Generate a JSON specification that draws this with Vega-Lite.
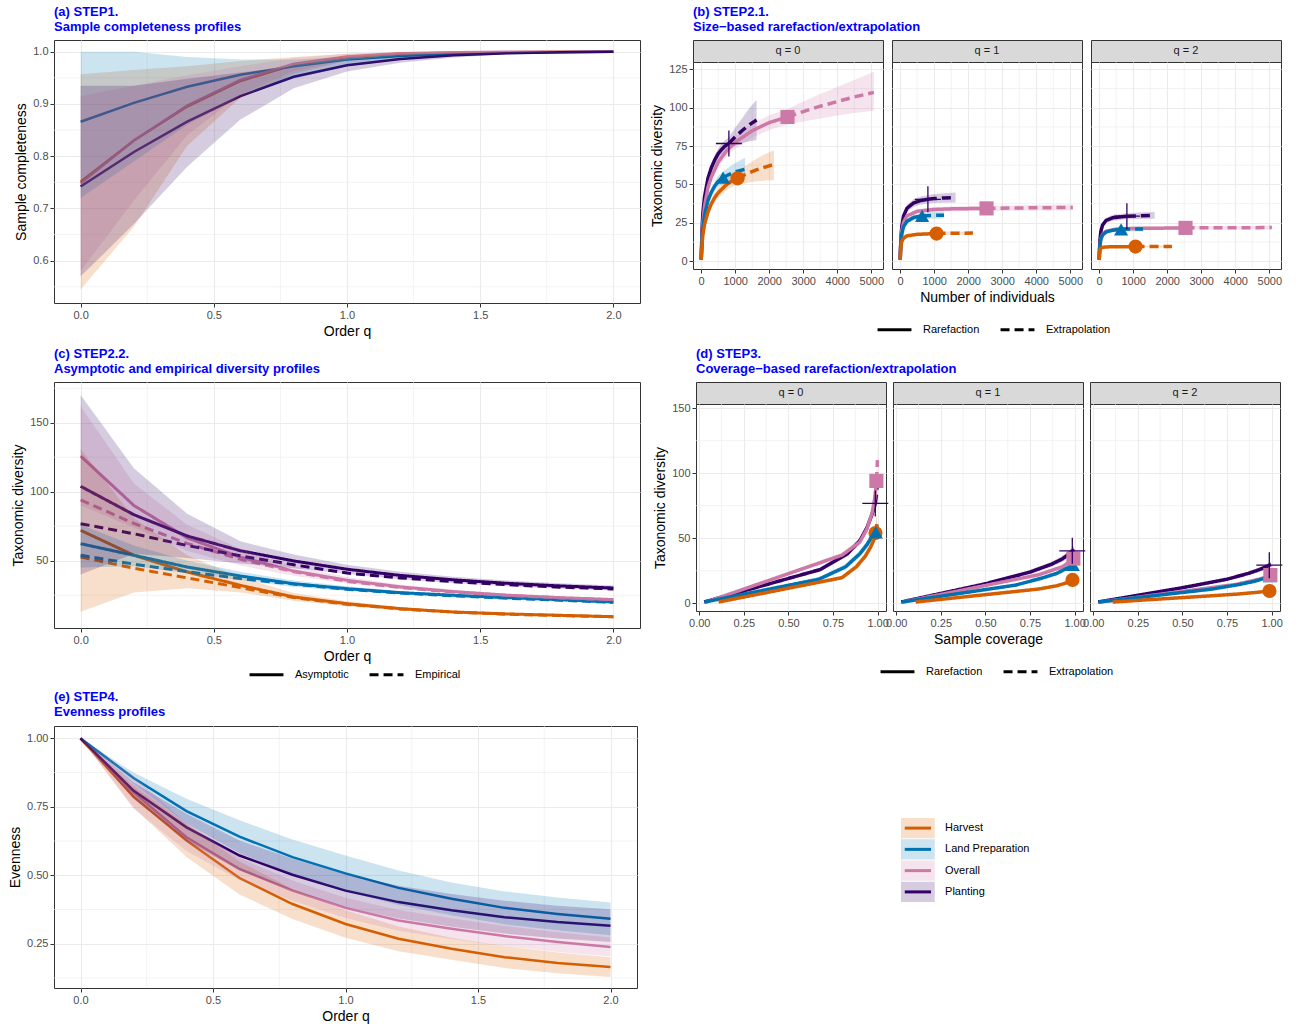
{
"$schema": "https://vega.github.io/schema/vega-lite/v6.json",
"background": "white",
"padding": {"left": 8, "top": 5, "right": 5, "bottom": 2},
"config": {
  "font": "Liberation Sans",
  "view": {"stroke": "#333333", "strokeWidth": 1},
  "axis": {"domain": false, "grid": true, "gridColor": "#EBEBEB", "gridWidth": 1.1, "tickColor": "#333333", "tickSize": 4, "tickWidth": 1, "labelColor": "#4D4D4D", "labelFont": "Liberation Sans", "labelFontSize": 11, "labelPadding": 2, "labelOverlap": false, "labelFlush": false, "titleFont": "Liberation Sans", "titleFontSize": 14, "titleFontWeight": "normal", "titleColor": "#000000", "titlePadding": 4, "minExtent": 0},
  "title": {"anchor": "start", "frame": "group", "color": "#0000FF", "font": "Liberation Sans", "fontSize": 13, "fontWeight": "bold", "offset": 6, "lineHeight": 14.5},
  "legend": {"labelFont": "Liberation Sans", "labelFontSize": 11, "labelColor": "#000000", "symbolType": "stroke", "symbolStrokeWidth": 3, "symbolSize": 1150, "symbolStrokeColor": "#000000", "columnPadding": 14, "labelOffset": 10}
},
"datasets": {
"sc": [
{"g":"Harvest","q":0,"v":0.751,"lo":0.545,"hi":0.957},{"g":"Harvest","q":0.2,"v":0.83,"lo":0.665,"hi":0.965},{"g":"Harvest","q":0.4,"v":0.895,"lo":0.82,"hi":0.972},{"g":"Harvest","q":0.6,"v":0.944,"lo":0.912,"hi":0.982},{"g":"Harvest","q":0.8,"v":0.975,"lo":0.958,"hi":0.99},{"g":"Harvest","q":1,"v":0.99,"lo":0.983,"hi":0.996},{"g":"Harvest","q":1.2,"v":0.996,"lo":0.992,"hi":0.999},{"g":"Harvest","q":1.4,"v":0.998,"lo":0.996,"hi":1},{"g":"Harvest","q":1.6,"v":0.999,"lo":0.998,"hi":1},{"g":"Harvest","q":1.8,"v":1,"lo":0.999,"hi":1},{"g":"Harvest","q":2,"v":1,"lo":1,"hi":1},
{"g":"Land Preparation","q":0,"v":0.866,"lo":0.72,"hi":1},{"g":"Land Preparation","q":0.2,"v":0.902,"lo":0.79,"hi":1},{"g":"Land Preparation","q":0.4,"v":0.933,"lo":0.86,"hi":0.99},{"g":"Land Preparation","q":0.6,"v":0.956,"lo":0.915,"hi":0.985},{"g":"Land Preparation","q":0.8,"v":0.972,"lo":0.948,"hi":0.985},{"g":"Land Preparation","q":1,"v":0.985,"lo":0.972,"hi":0.99},{"g":"Land Preparation","q":1.2,"v":0.992,"lo":0.985,"hi":0.996},{"g":"Land Preparation","q":1.4,"v":0.996,"lo":0.992,"hi":0.998},{"g":"Land Preparation","q":1.6,"v":0.998,"lo":0.996,"hi":1},{"g":"Land Preparation","q":1.8,"v":0.999,"lo":0.998,"hi":1},{"g":"Land Preparation","q":2,"v":1,"lo":0.999,"hi":1},
{"g":"Overall","q":0,"v":0.748,"lo":0.58,"hi":0.915},{"g":"Overall","q":0.2,"v":0.83,"lo":0.715,"hi":0.935},{"g":"Overall","q":0.4,"v":0.897,"lo":0.84,"hi":0.955},{"g":"Overall","q":0.6,"v":0.946,"lo":0.918,"hi":0.972},{"g":"Overall","q":0.8,"v":0.977,"lo":0.963,"hi":0.988},{"g":"Overall","q":1,"v":0.991,"lo":0.984,"hi":0.996},{"g":"Overall","q":1.2,"v":0.997,"lo":0.994,"hi":0.999},{"g":"Overall","q":1.4,"v":0.999,"lo":0.998,"hi":1},{"g":"Overall","q":1.6,"v":1,"lo":0.999,"hi":1},{"g":"Overall","q":1.8,"v":1,"lo":1,"hi":1},{"g":"Overall","q":2,"v":1,"lo":1,"hi":1},
{"g":"Planting","q":0,"v":0.742,"lo":0.57,"hi":0.935},{"g":"Planting","q":0.2,"v":0.808,"lo":0.67,"hi":0.935},{"g":"Planting","q":0.4,"v":0.866,"lo":0.78,"hi":0.948},{"g":"Planting","q":0.6,"v":0.915,"lo":0.87,"hi":0.96},{"g":"Planting","q":0.8,"v":0.952,"lo":0.93,"hi":0.972},{"g":"Planting","q":1,"v":0.974,"lo":0.962,"hi":0.984},{"g":"Planting","q":1.2,"v":0.986,"lo":0.979,"hi":0.992},{"g":"Planting","q":1.4,"v":0.993,"lo":0.989,"hi":0.997},{"g":"Planting","q":1.6,"v":0.997,"lo":0.995,"hi":0.999},{"g":"Planting","q":1.8,"v":0.999,"lo":0.998,"hi":1},{"g":"Planting","q":2,"v":1,"lo":0.999,"hi":1}
],
"prof": [
{"g":"Harvest","m":"Asymptotic","q":0,"v":72,"lo":13,"hi":131},{"g":"Harvest","m":"Asymptotic","q":0.2,"v":53.9,"lo":27,"hi":81},{"g":"Harvest","m":"Asymptotic","q":0.4,"v":41.8,"lo":30,"hi":54},{"g":"Harvest","m":"Asymptotic","q":0.6,"v":32.1,"lo":27,"hi":38},{"g":"Harvest","m":"Asymptotic","q":0.8,"v":23.7,"lo":21,"hi":26.5},{"g":"Harvest","m":"Asymptotic","q":1,"v":18.8,"lo":17,"hi":20.6},{"g":"Harvest","m":"Asymptotic","q":1.2,"v":15.2,"lo":14,"hi":16.4},{"g":"Harvest","m":"Asymptotic","q":1.4,"v":12.8,"lo":12,"hi":13.6},{"g":"Harvest","m":"Asymptotic","q":1.6,"v":11.4,"lo":10.7,"hi":12.1},{"g":"Harvest","m":"Asymptotic","q":1.8,"v":10.4,"lo":9.8,"hi":11},{"g":"Harvest","m":"Asymptotic","q":2,"v":9.4,"lo":8.9,"hi":9.9},
{"g":"Harvest","m":"Empirical","q":0,"v":52.7},{"g":"Harvest","m":"Empirical","q":0.2,"v":44.5},{"g":"Harvest","m":"Empirical","q":0.4,"v":37.5},{"g":"Harvest","m":"Empirical","q":0.6,"v":30.5},{"g":"Harvest","m":"Empirical","q":0.8,"v":23.3},{"g":"Harvest","m":"Empirical","q":1,"v":18.4},{"g":"Harvest","m":"Empirical","q":1.2,"v":15},{"g":"Harvest","m":"Empirical","q":1.4,"v":12.7},{"g":"Harvest","m":"Empirical","q":1.6,"v":11.2},{"g":"Harvest","m":"Empirical","q":1.8,"v":10.2},{"g":"Harvest","m":"Empirical","q":2,"v":9.3},
{"g":"Land Preparation","m":"Asymptotic","q":0,"v":62.3,"lo":45,"hi":76},{"g":"Land Preparation","m":"Asymptotic","q":0.2,"v":53.9,"lo":46,"hi":61},{"g":"Land Preparation","m":"Asymptotic","q":0.4,"v":45.4,"lo":41,"hi":50},{"g":"Land Preparation","m":"Asymptotic","q":0.6,"v":38.9,"lo":36,"hi":42},{"g":"Land Preparation","m":"Asymptotic","q":0.8,"v":33.3,"lo":31,"hi":35.6},{"g":"Land Preparation","m":"Asymptotic","q":1,"v":29.7,"lo":28,"hi":31.4},{"g":"Land Preparation","m":"Asymptotic","q":1.2,"v":26.8,"lo":25.6,"hi":28},{"g":"Land Preparation","m":"Asymptotic","q":1.4,"v":24.9,"lo":23.8,"hi":26},{"g":"Land Preparation","m":"Asymptotic","q":1.6,"v":23.2,"lo":22.1,"hi":24.3},{"g":"Land Preparation","m":"Asymptotic","q":1.8,"v":21.7,"lo":20.7,"hi":22.7},{"g":"Land Preparation","m":"Asymptotic","q":2,"v":20,"lo":19,"hi":21},
{"g":"Land Preparation","m":"Empirical","q":0,"v":53.9},{"g":"Land Preparation","m":"Empirical","q":0.2,"v":47.5},{"g":"Land Preparation","m":"Empirical","q":0.4,"v":42},{"g":"Land Preparation","m":"Empirical","q":0.6,"v":37},{"g":"Land Preparation","m":"Empirical","q":0.8,"v":33},{"g":"Land Preparation","m":"Empirical","q":1,"v":29.3},{"g":"Land Preparation","m":"Empirical","q":1.2,"v":26.5},{"g":"Land Preparation","m":"Empirical","q":1.4,"v":24.5},{"g":"Land Preparation","m":"Empirical","q":1.6,"v":22.8},{"g":"Land Preparation","m":"Empirical","q":1.8,"v":21.3},{"g":"Land Preparation","m":"Empirical","q":2,"v":19.8},
{"g":"Overall","m":"Asymptotic","q":0,"v":125.8,"lo":90,"hi":162},{"g":"Overall","m":"Asymptotic","q":0.2,"v":90,"lo":74,"hi":106},{"g":"Overall","m":"Asymptotic","q":0.4,"v":66.5,"lo":57,"hi":76},{"g":"Overall","m":"Asymptotic","q":0.6,"v":52.5,"lo":46.5,"hi":58.5},{"g":"Overall","m":"Asymptotic","q":0.8,"v":42.5,"lo":39,"hi":46},{"g":"Overall","m":"Asymptotic","q":1,"v":35.8,"lo":33.5,"hi":38.1},{"g":"Overall","m":"Asymptotic","q":1.2,"v":31,"lo":29.3,"hi":32.7},{"g":"Overall","m":"Asymptotic","q":1.4,"v":27.6,"lo":26.2,"hi":29},{"g":"Overall","m":"Asymptotic","q":1.6,"v":25,"lo":23.8,"hi":26.2},{"g":"Overall","m":"Asymptotic","q":1.8,"v":23.2,"lo":22.1,"hi":24.3},{"g":"Overall","m":"Asymptotic","q":2,"v":21.8,"lo":20.8,"hi":22.8},
{"g":"Overall","m":"Empirical","q":0,"v":94},{"g":"Overall","m":"Empirical","q":0.2,"v":77},{"g":"Overall","m":"Empirical","q":0.4,"v":62.5},{"g":"Overall","m":"Empirical","q":0.6,"v":51},{"g":"Overall","m":"Empirical","q":0.8,"v":42},{"g":"Overall","m":"Empirical","q":1,"v":35},{"g":"Overall","m":"Empirical","q":1.2,"v":30.5},{"g":"Overall","m":"Empirical","q":1.4,"v":27.2},{"g":"Overall","m":"Empirical","q":1.6,"v":24.8},{"g":"Overall","m":"Empirical","q":1.8,"v":23},{"g":"Overall","m":"Empirical","q":2,"v":21.6},
{"g":"Planting","m":"Asymptotic","q":0,"v":103.9,"lo":40,"hi":170},{"g":"Planting","m":"Asymptotic","q":0.2,"v":83.3,"lo":55,"hi":117},{"g":"Planting","m":"Asymptotic","q":0.4,"v":67.9,"lo":52,"hi":84},{"g":"Planting","m":"Asymptotic","q":0.6,"v":57.2,"lo":48,"hi":64},{"g":"Planting","m":"Asymptotic","q":0.8,"v":49.8,"lo":44.5,"hi":54.5},{"g":"Planting","m":"Asymptotic","q":1,"v":43.8,"lo":40.5,"hi":47},{"g":"Planting","m":"Asymptotic","q":1.2,"v":39.3,"lo":36.5,"hi":42},{"g":"Planting","m":"Asymptotic","q":1.4,"v":36.1,"lo":33.8,"hi":38.4},{"g":"Planting","m":"Asymptotic","q":1.6,"v":33.6,"lo":31.5,"hi":35.7},{"g":"Planting","m":"Asymptotic","q":1.8,"v":31.7,"lo":29.8,"hi":33.6},{"g":"Planting","m":"Asymptotic","q":2,"v":30.2,"lo":28.4,"hi":32},
{"g":"Planting","m":"Empirical","q":0,"v":76.8},{"g":"Planting","m":"Empirical","q":0.2,"v":69.5},{"g":"Planting","m":"Empirical","q":0.4,"v":61},{"g":"Planting","m":"Empirical","q":0.6,"v":53.5},{"g":"Planting","m":"Empirical","q":0.8,"v":47},{"g":"Planting","m":"Empirical","q":1,"v":41},{"g":"Planting","m":"Empirical","q":1.2,"v":37.5},{"g":"Planting","m":"Empirical","q":1.4,"v":34.8},{"g":"Planting","m":"Empirical","q":1.6,"v":32.6},{"g":"Planting","m":"Empirical","q":1.8,"v":30.8},{"g":"Planting","m":"Empirical","q":2,"v":29.5}
],
"even": [
{"g":"Harvest","q":0,"v":1,"lo":1,"hi":1},{"g":"Harvest","q":0.2,"v":0.787,"lo":0.747,"hi":0.827},{"g":"Harvest","q":0.4,"v":0.627,"lo":0.567,"hi":0.687},{"g":"Harvest","q":0.6,"v":0.49,"lo":0.43,"hi":0.55},{"g":"Harvest","q":0.8,"v":0.395,"lo":0.34,"hi":0.45},{"g":"Harvest","q":1,"v":0.322,"lo":0.272,"hi":0.372},{"g":"Harvest","q":1.2,"v":0.268,"lo":0.223,"hi":0.313},{"g":"Harvest","q":1.4,"v":0.232,"lo":0.192,"hi":0.272},{"g":"Harvest","q":1.6,"v":0.201,"lo":0.161,"hi":0.241},{"g":"Harvest","q":1.8,"v":0.18,"lo":0.142,"hi":0.218},{"g":"Harvest","q":2,"v":0.165,"lo":0.129,"hi":0.201},
{"g":"Land Preparation","q":0,"v":1,"lo":1,"hi":1},{"g":"Land Preparation","q":0.2,"v":0.855,"lo":0.835,"hi":0.875},{"g":"Land Preparation","q":0.4,"v":0.734,"lo":0.689,"hi":0.779},{"g":"Land Preparation","q":0.6,"v":0.641,"lo":0.581,"hi":0.701},{"g":"Land Preparation","q":0.8,"v":0.566,"lo":0.501,"hi":0.631},{"g":"Land Preparation","q":1,"v":0.507,"lo":0.442,"hi":0.572},{"g":"Land Preparation","q":1.2,"v":0.454,"lo":0.391,"hi":0.517},{"g":"Land Preparation","q":1.4,"v":0.414,"lo":0.354,"hi":0.474},{"g":"Land Preparation","q":1.6,"v":0.381,"lo":0.321,"hi":0.441},{"g":"Land Preparation","q":1.8,"v":0.359,"lo":0.299,"hi":0.419},{"g":"Land Preparation","q":2,"v":0.341,"lo":0.281,"hi":0.401},
{"g":"Overall","q":0,"v":1,"lo":1,"hi":1},{"g":"Overall","q":0.2,"v":0.803,"lo":0.743,"hi":0.863},{"g":"Overall","q":0.4,"v":0.639,"lo":0.589,"hi":0.689},{"g":"Overall","q":0.6,"v":0.523,"lo":0.483,"hi":0.563},{"g":"Overall","q":0.8,"v":0.444,"lo":0.407,"hi":0.481},{"g":"Overall","q":1,"v":0.381,"lo":0.344,"hi":0.418},{"g":"Overall","q":1.2,"v":0.335,"lo":0.297,"hi":0.373},{"g":"Overall","q":1.4,"v":0.305,"lo":0.267,"hi":0.343},{"g":"Overall","q":1.6,"v":0.278,"lo":0.241,"hi":0.315},{"g":"Overall","q":1.8,"v":0.256,"lo":0.22,"hi":0.292},{"g":"Overall","q":2,"v":0.238,"lo":0.203,"hi":0.273},
{"g":"Planting","q":0,"v":1,"lo":1,"hi":1},{"g":"Planting","q":0.2,"v":0.809,"lo":0.779,"hi":0.839},{"g":"Planting","q":0.4,"v":0.675,"lo":0.625,"hi":0.725},{"g":"Planting","q":0.6,"v":0.572,"lo":0.517,"hi":0.627},{"g":"Planting","q":0.8,"v":0.502,"lo":0.444,"hi":0.56},{"g":"Planting","q":1,"v":0.444,"lo":0.384,"hi":0.504},{"g":"Planting","q":1.2,"v":0.402,"lo":0.342,"hi":0.462},{"g":"Planting","q":1.4,"v":0.372,"lo":0.312,"hi":0.432},{"g":"Planting","q":1.6,"v":0.347,"lo":0.287,"hi":0.407},{"g":"Planting","q":1.8,"v":0.329,"lo":0.269,"hi":0.389},{"g":"Planting","q":2,"v":0.316,"lo":0.256,"hi":0.376}
],
"size": [
{"q":0,"g":"Planting","m":"Rarefaction","x":1,"y":1,"lo":1,"hi":1},{"q":0,"g":"Planting","m":"Rarefaction","x":25,"y":20,"lo":19,"hi":21},{"q":0,"g":"Planting","m":"Rarefaction","x":50,"y":31,"lo":29.5,"hi":32.5},{"q":0,"g":"Planting","m":"Rarefaction","x":100,"y":42,"lo":40,"hi":44},{"q":0,"g":"Planting","m":"Rarefaction","x":200,"y":54,"lo":51.5,"hi":56.5},{"q":0,"g":"Planting","m":"Rarefaction","x":300,"y":61,"lo":58,"hi":64},{"q":0,"g":"Planting","m":"Rarefaction","x":400,"y":66,"lo":62.8,"hi":69.2},{"q":0,"g":"Planting","m":"Rarefaction","x":500,"y":70,"lo":66.6,"hi":73.4},{"q":0,"g":"Planting","m":"Rarefaction","x":600,"y":72.8,"lo":69.2,"hi":76.4},{"q":0,"g":"Planting","m":"Rarefaction","x":700,"y":75,"lo":71.2,"hi":78.8},{"q":0,"g":"Planting","m":"Rarefaction","x":815,"y":76.7,"lo":72.7,"hi":80.7},
{"q":0,"g":"Planting","m":"Extrapolation","x":815,"y":76.7,"lo":72.7,"hi":80.7},{"q":0,"g":"Planting","m":"Extrapolation","x":1000,"y":81,"lo":75,"hi":87},{"q":0,"g":"Planting","m":"Extrapolation","x":1200,"y":85,"lo":77,"hi":93},{"q":0,"g":"Planting","m":"Extrapolation","x":1400,"y":88.7,"lo":78,"hi":99.4},{"q":0,"g":"Planting","m":"Extrapolation","x":1630,"y":92,"lo":79,"hi":105},
{"q":0,"g":"Overall","m":"Rarefaction","x":1,"y":1,"lo":1,"hi":1},{"q":0,"g":"Overall","m":"Rarefaction","x":25,"y":16,"lo":15,"hi":17},{"q":0,"g":"Overall","m":"Rarefaction","x":50,"y":25,"lo":23.5,"hi":26.5},{"q":0,"g":"Overall","m":"Rarefaction","x":100,"y":36,"lo":34,"hi":38},{"q":0,"g":"Overall","m":"Rarefaction","x":200,"y":48,"lo":45.5,"hi":50.5},{"q":0,"g":"Overall","m":"Rarefaction","x":300,"y":55,"lo":52,"hi":58},{"q":0,"g":"Overall","m":"Rarefaction","x":500,"y":64.5,"lo":61,"hi":68},{"q":0,"g":"Overall","m":"Rarefaction","x":750,"y":72,"lo":68,"hi":76},{"q":0,"g":"Overall","m":"Rarefaction","x":1000,"y":77.5,"lo":73.3,"hi":81.7},{"q":0,"g":"Overall","m":"Rarefaction","x":1500,"y":85,"lo":80.5,"hi":89.5},{"q":0,"g":"Overall","m":"Rarefaction","x":2000,"y":90.3,"lo":85.5,"hi":95.1},{"q":0,"g":"Overall","m":"Rarefaction","x":2538,"y":94,"lo":89,"hi":99},
{"q":0,"g":"Overall","m":"Extrapolation","x":2538,"y":94,"lo":89,"hi":99},{"q":0,"g":"Overall","m":"Extrapolation","x":3000,"y":97.5,"lo":91,"hi":104},{"q":0,"g":"Overall","m":"Extrapolation","x":3500,"y":101,"lo":93,"hi":109},{"q":0,"g":"Overall","m":"Extrapolation","x":4000,"y":104,"lo":95,"hi":113.5},{"q":0,"g":"Overall","m":"Extrapolation","x":4500,"y":107,"lo":96.5,"hi":118},{"q":0,"g":"Overall","m":"Extrapolation","x":5076,"y":110,"lo":98,"hi":123.5},
{"q":0,"g":"Land Preparation","m":"Rarefaction","x":1,"y":1,"lo":1,"hi":1},{"q":0,"g":"Land Preparation","m":"Rarefaction","x":25,"y":15,"lo":14,"hi":16},{"q":0,"g":"Land Preparation","m":"Rarefaction","x":50,"y":22,"lo":20.5,"hi":23.5},{"q":0,"g":"Land Preparation","m":"Rarefaction","x":100,"y":30,"lo":28,"hi":32},{"q":0,"g":"Land Preparation","m":"Rarefaction","x":200,"y":39.5,"lo":37,"hi":42},{"q":0,"g":"Land Preparation","m":"Rarefaction","x":300,"y":45,"lo":42,"hi":48},{"q":0,"g":"Land Preparation","m":"Rarefaction","x":400,"y":49,"lo":45.7,"hi":52.3},{"q":0,"g":"Land Preparation","m":"Rarefaction","x":500,"y":52,"lo":48.4,"hi":55.6},{"q":0,"g":"Land Preparation","m":"Rarefaction","x":645,"y":54.4,"lo":50.4,"hi":58.4},
{"q":0,"g":"Land Preparation","m":"Extrapolation","x":645,"y":54.4,"lo":50.4,"hi":58.4},{"q":0,"g":"Land Preparation","m":"Extrapolation","x":800,"y":56.3,"lo":51.5,"hi":61},{"q":0,"g":"Land Preparation","m":"Extrapolation","x":1000,"y":58.2,"lo":52.5,"hi":64},{"q":0,"g":"Land Preparation","m":"Extrapolation","x":1290,"y":59.9,"lo":53.3,"hi":67.4},
{"q":0,"g":"Harvest","m":"Rarefaction","x":1,"y":1,"lo":1,"hi":1},{"q":0,"g":"Harvest","m":"Rarefaction","x":25,"y":11,"lo":10,"hi":12},{"q":0,"g":"Harvest","m":"Rarefaction","x":50,"y":17,"lo":15.7,"hi":18.3},{"q":0,"g":"Harvest","m":"Rarefaction","x":100,"y":24,"lo":22.2,"hi":25.8},{"q":0,"g":"Harvest","m":"Rarefaction","x":200,"y":32,"lo":29.8,"hi":34.2},{"q":0,"g":"Harvest","m":"Rarefaction","x":300,"y":37.5,"lo":34.9,"hi":40.1},{"q":0,"g":"Harvest","m":"Rarefaction","x":400,"y":41.5,"lo":38.5,"hi":44.5},{"q":0,"g":"Harvest","m":"Rarefaction","x":500,"y":44.5,"lo":41.3,"hi":47.7},{"q":0,"g":"Harvest","m":"Rarefaction","x":700,"y":49,"lo":45.4,"hi":52.6},{"q":0,"g":"Harvest","m":"Rarefaction","x":900,"y":52.3,"lo":48.3,"hi":56.3},{"q":0,"g":"Harvest","m":"Rarefaction","x":1070,"y":54,"lo":49.8,"hi":58.2},
{"q":0,"g":"Harvest","m":"Extrapolation","x":1070,"y":54,"lo":49.8,"hi":58.2},{"q":0,"g":"Harvest","m":"Extrapolation","x":1300,"y":56.5,"lo":51,"hi":62},{"q":0,"g":"Harvest","m":"Extrapolation","x":1600,"y":59.3,"lo":52,"hi":66.5},{"q":0,"g":"Harvest","m":"Extrapolation","x":1900,"y":61.5,"lo":52.5,"hi":70},{"q":0,"g":"Harvest","m":"Extrapolation","x":2140,"y":63,"lo":52.8,"hi":72.3},
{"q":1,"g":"Planting","m":"Rarefaction","x":1,"y":1,"lo":1,"hi":1},{"q":1,"g":"Planting","m":"Rarefaction","x":10,"y":8,"lo":7.5,"hi":8.5},{"q":1,"g":"Planting","m":"Rarefaction","x":25,"y":16,"lo":15,"hi":17},{"q":1,"g":"Planting","m":"Rarefaction","x":50,"y":23,"lo":21.5,"hi":24.5},{"q":1,"g":"Planting","m":"Rarefaction","x":100,"y":29.5,"lo":27.5,"hi":31.5},{"q":1,"g":"Planting","m":"Rarefaction","x":200,"y":34.5,"lo":32.2,"hi":36.8},{"q":1,"g":"Planting","m":"Rarefaction","x":400,"y":38,"lo":35.5,"hi":40.5},{"q":1,"g":"Planting","m":"Rarefaction","x":600,"y":39.5,"lo":36.9,"hi":42.1},{"q":1,"g":"Planting","m":"Rarefaction","x":815,"y":40.3,"lo":37.6,"hi":43},
{"q":1,"g":"Planting","m":"Extrapolation","x":815,"y":40.3,"lo":37.6,"hi":43},{"q":1,"g":"Planting","m":"Extrapolation","x":1000,"y":40.8,"lo":37.9,"hi":43.7},{"q":1,"g":"Planting","m":"Extrapolation","x":1300,"y":41.2,"lo":38.1,"hi":44.3},{"q":1,"g":"Planting","m":"Extrapolation","x":1630,"y":41.5,"lo":38.2,"hi":44.8},
{"q":1,"g":"Overall","m":"Rarefaction","x":1,"y":1,"lo":1,"hi":1},{"q":1,"g":"Overall","m":"Rarefaction","x":10,"y":7,"lo":6.6,"hi":7.4},{"q":1,"g":"Overall","m":"Rarefaction","x":25,"y":14,"lo":13.2,"hi":14.8},{"q":1,"g":"Overall","m":"Rarefaction","x":50,"y":20,"lo":19,"hi":21},{"q":1,"g":"Overall","m":"Rarefaction","x":100,"y":25.5,"lo":24.3,"hi":26.7},{"q":1,"g":"Overall","m":"Rarefaction","x":200,"y":29.5,"lo":28.1,"hi":30.9},{"q":1,"g":"Overall","m":"Rarefaction","x":500,"y":32.5,"lo":31,"hi":34},{"q":1,"g":"Overall","m":"Rarefaction","x":1000,"y":33.7,"lo":32.1,"hi":35.3},{"q":1,"g":"Overall","m":"Rarefaction","x":1500,"y":34.1,"lo":32.5,"hi":35.7},{"q":1,"g":"Overall","m":"Rarefaction","x":2538,"y":34.4,"lo":32.7,"hi":36.1},
{"q":1,"g":"Overall","m":"Extrapolation","x":2538,"y":34.4,"lo":32.7,"hi":36.1},{"q":1,"g":"Overall","m":"Extrapolation","x":3500,"y":34.7,"lo":32.9,"hi":36.5},{"q":1,"g":"Overall","m":"Extrapolation","x":4500,"y":34.9,"lo":33,"hi":36.8},{"q":1,"g":"Overall","m":"Extrapolation","x":5076,"y":35,"lo":33.1,"hi":36.9},
{"q":1,"g":"Land Preparation","m":"Rarefaction","x":1,"y":1,"lo":1,"hi":1},{"q":1,"g":"Land Preparation","m":"Rarefaction","x":10,"y":7,"lo":6.6,"hi":7.4},{"q":1,"g":"Land Preparation","m":"Rarefaction","x":25,"y":13,"lo":12.2,"hi":13.8},{"q":1,"g":"Land Preparation","m":"Rarefaction","x":50,"y":18,"lo":16.9,"hi":19.1},{"q":1,"g":"Land Preparation","m":"Rarefaction","x":100,"y":22.5,"lo":21.1,"hi":23.9},{"q":1,"g":"Land Preparation","m":"Rarefaction","x":200,"y":26,"lo":24.4,"hi":27.6},{"q":1,"g":"Land Preparation","m":"Rarefaction","x":400,"y":28.5,"lo":26.7,"hi":30.3},{"q":1,"g":"Land Preparation","m":"Rarefaction","x":645,"y":29.5,"lo":27.5,"hi":31.5},
{"q":1,"g":"Land Preparation","m":"Extrapolation","x":645,"y":29.5,"lo":27.5,"hi":31.5},{"q":1,"g":"Land Preparation","m":"Extrapolation","x":900,"y":29.8,"lo":27.7,"hi":31.9},{"q":1,"g":"Land Preparation","m":"Extrapolation","x":1290,"y":30,"lo":27.8,"hi":32.2},
{"q":1,"g":"Harvest","m":"Rarefaction","x":1,"y":1,"lo":1,"hi":1},{"q":1,"g":"Harvest","m":"Rarefaction","x":10,"y":6,"lo":5.7,"hi":6.3},{"q":1,"g":"Harvest","m":"Rarefaction","x":25,"y":10,"lo":9.5,"hi":10.5},{"q":1,"g":"Harvest","m":"Rarefaction","x":50,"y":13,"lo":12.3,"hi":13.7},{"q":1,"g":"Harvest","m":"Rarefaction","x":100,"y":15,"lo":14.2,"hi":15.8},{"q":1,"g":"Harvest","m":"Rarefaction","x":200,"y":16.5,"lo":15.6,"hi":17.4},{"q":1,"g":"Harvest","m":"Rarefaction","x":500,"y":17.5,"lo":16.5,"hi":18.5},{"q":1,"g":"Harvest","m":"Rarefaction","x":1070,"y":18,"lo":17,"hi":19},
{"q":1,"g":"Harvest","m":"Extrapolation","x":1070,"y":18,"lo":17,"hi":19},{"q":1,"g":"Harvest","m":"Extrapolation","x":1500,"y":18.2,"lo":17.1,"hi":19.3},{"q":1,"g":"Harvest","m":"Extrapolation","x":2140,"y":18.3,"lo":17.2,"hi":19.4},
{"q":2,"g":"Planting","m":"Rarefaction","x":1,"y":1,"lo":1,"hi":1},{"q":2,"g":"Planting","m":"Rarefaction","x":10,"y":7.5,"lo":7,"hi":8},{"q":2,"g":"Planting","m":"Rarefaction","x":25,"y":14,"lo":13.1,"hi":14.9},{"q":2,"g":"Planting","m":"Rarefaction","x":50,"y":19.5,"lo":18.3,"hi":20.7},{"q":2,"g":"Planting","m":"Rarefaction","x":100,"y":23.5,"lo":22,"hi":25},{"q":2,"g":"Planting","m":"Rarefaction","x":200,"y":26.5,"lo":24.8,"hi":28.2},{"q":2,"g":"Planting","m":"Rarefaction","x":400,"y":28.3,"lo":26.4,"hi":30.2},{"q":2,"g":"Planting","m":"Rarefaction","x":815,"y":29.3,"lo":27.3,"hi":31.3},
{"q":2,"g":"Planting","m":"Extrapolation","x":815,"y":29.3,"lo":27.3,"hi":31.3},{"q":2,"g":"Planting","m":"Extrapolation","x":1200,"y":29.6,"lo":27.5,"hi":31.7},{"q":2,"g":"Planting","m":"Extrapolation","x":1630,"y":29.8,"lo":27.6,"hi":32},
{"q":2,"g":"Overall","m":"Rarefaction","x":1,"y":1,"lo":1,"hi":1},{"q":2,"g":"Overall","m":"Rarefaction","x":10,"y":6,"lo":5.7,"hi":6.3},{"q":2,"g":"Overall","m":"Rarefaction","x":25,"y":11,"lo":10.4,"hi":11.6},{"q":2,"g":"Overall","m":"Rarefaction","x":50,"y":14.5,"lo":13.7,"hi":15.3},{"q":2,"g":"Overall","m":"Rarefaction","x":100,"y":17.5,"lo":16.6,"hi":18.4},{"q":2,"g":"Overall","m":"Rarefaction","x":200,"y":19.5,"lo":18.5,"hi":20.5},{"q":2,"g":"Overall","m":"Rarefaction","x":500,"y":20.8,"lo":19.7,"hi":21.9},{"q":2,"g":"Overall","m":"Rarefaction","x":1000,"y":21.3,"lo":20.2,"hi":22.4},{"q":2,"g":"Overall","m":"Rarefaction","x":2538,"y":21.7,"lo":20.5,"hi":22.9},
{"q":2,"g":"Overall","m":"Extrapolation","x":2538,"y":21.7,"lo":20.5,"hi":22.9},{"q":2,"g":"Overall","m":"Extrapolation","x":3800,"y":21.8,"lo":20.6,"hi":23},{"q":2,"g":"Overall","m":"Extrapolation","x":5076,"y":21.9,"lo":20.6,"hi":23.2},
{"q":2,"g":"Land Preparation","m":"Rarefaction","x":1,"y":1,"lo":1,"hi":1},{"q":2,"g":"Land Preparation","m":"Rarefaction","x":10,"y":6,"lo":5.6,"hi":6.4},{"q":2,"g":"Land Preparation","m":"Rarefaction","x":25,"y":11,"lo":10.3,"hi":11.7},{"q":2,"g":"Land Preparation","m":"Rarefaction","x":50,"y":14.5,"lo":13.6,"hi":15.4},{"q":2,"g":"Land Preparation","m":"Rarefaction","x":100,"y":17,"lo":15.9,"hi":18.1},{"q":2,"g":"Land Preparation","m":"Rarefaction","x":200,"y":19,"lo":17.7,"hi":20.3},{"q":2,"g":"Land Preparation","m":"Rarefaction","x":400,"y":20.2,"lo":18.8,"hi":21.6},{"q":2,"g":"Land Preparation","m":"Rarefaction","x":645,"y":20.8,"lo":19.3,"hi":22.3},
{"q":2,"g":"Land Preparation","m":"Extrapolation","x":645,"y":20.8,"lo":19.3,"hi":22.3},{"q":2,"g":"Land Preparation","m":"Extrapolation","x":900,"y":20.9,"lo":19.3,"hi":22.5},{"q":2,"g":"Land Preparation","m":"Extrapolation","x":1290,"y":21,"lo":19.3,"hi":22.7},
{"q":2,"g":"Harvest","m":"Rarefaction","x":1,"y":1,"lo":1,"hi":1},{"q":2,"g":"Harvest","m":"Rarefaction","x":10,"y":5,"lo":4.8,"hi":5.2},{"q":2,"g":"Harvest","m":"Rarefaction","x":25,"y":7.5,"lo":7.2,"hi":7.8},{"q":2,"g":"Harvest","m":"Rarefaction","x":50,"y":8.5,"lo":8.1,"hi":8.9},{"q":2,"g":"Harvest","m":"Rarefaction","x":100,"y":9,"lo":8.6,"hi":9.4},{"q":2,"g":"Harvest","m":"Rarefaction","x":200,"y":9.3,"lo":8.8,"hi":9.8},{"q":2,"g":"Harvest","m":"Rarefaction","x":1070,"y":9.5,"lo":9,"hi":10},
{"q":2,"g":"Harvest","m":"Extrapolation","x":1070,"y":9.5,"lo":9,"hi":10},{"q":2,"g":"Harvest","m":"Extrapolation","x":1600,"y":9.55,"lo":9,"hi":10.1},{"q":2,"g":"Harvest","m":"Extrapolation","x":2140,"y":9.6,"lo":9,"hi":10.2}
],
"sizeObs": [
{"q":0,"g":"Harvest","x":1070,"y":54},{"q":0,"g":"Land Preparation","x":645,"y":54.4},{"q":0,"g":"Overall","x":2538,"y":94},{"q":0,"g":"Planting","x":815,"y":76.7},
{"q":1,"g":"Harvest","x":1070,"y":18},{"q":1,"g":"Land Preparation","x":645,"y":29.5},{"q":1,"g":"Overall","x":2538,"y":34.4},{"q":1,"g":"Planting","x":815,"y":40.3},
{"q":2,"g":"Harvest","x":1070,"y":9.5},{"q":2,"g":"Land Preparation","x":645,"y":20.8},{"q":2,"g":"Overall","x":2538,"y":21.7},{"q":2,"g":"Planting","x":815,"y":29.3}
],
"cov": [
{"q":0,"g":"Planting","m":"Rarefaction","x":0.028,"y":1,"lo":1,"hi":1},{"q":0,"g":"Planting","m":"Rarefaction","x":0.68,"y":26,"lo":24.5,"hi":27.5},{"q":0,"g":"Planting","m":"Rarefaction","x":0.83,"y":38,"lo":36,"hi":40},{"q":0,"g":"Planting","m":"Rarefaction","x":0.9,"y":48,"lo":45.5,"hi":50.5},{"q":0,"g":"Planting","m":"Rarefaction","x":0.94,"y":58,"lo":55,"hi":61},{"q":0,"g":"Planting","m":"Rarefaction","x":0.965,"y":67,"lo":63.5,"hi":70.5},{"q":0,"g":"Planting","m":"Rarefaction","x":0.98,"y":73,"lo":69.2,"hi":76.8},{"q":0,"g":"Planting","m":"Rarefaction","x":0.987,"y":76.7,"lo":72.7,"hi":80.7},
{"q":0,"g":"Planting","m":"Extrapolation","x":0.987,"y":76.7,"lo":72.7,"hi":80.7},{"q":0,"g":"Planting","m":"Extrapolation","x":0.991,"y":81,"lo":75,"hi":87},{"q":0,"g":"Planting","m":"Extrapolation","x":0.994,"y":85,"lo":77,"hi":93},{"q":0,"g":"Planting","m":"Extrapolation","x":0.996,"y":88.7,"lo":78,"hi":99.4},{"q":0,"g":"Planting","m":"Extrapolation","x":0.997,"y":92,"lo":79,"hi":105},
{"q":0,"g":"Overall","m":"Rarefaction","x":0.04,"y":1,"lo":1,"hi":1},{"q":0,"g":"Overall","m":"Rarefaction","x":0.8,"y":37,"lo":35,"hi":39},{"q":0,"g":"Overall","m":"Rarefaction","x":0.9,"y":47,"lo":44.5,"hi":49.5},{"q":0,"g":"Overall","m":"Rarefaction","x":0.94,"y":57,"lo":54,"hi":60},{"q":0,"g":"Overall","m":"Rarefaction","x":0.97,"y":70,"lo":66.5,"hi":73.5},{"q":0,"g":"Overall","m":"Rarefaction","x":0.983,"y":80,"lo":76,"hi":84},{"q":0,"g":"Overall","m":"Rarefaction","x":0.989,"y":87,"lo":82.5,"hi":91.5},{"q":0,"g":"Overall","m":"Rarefaction","x":0.993,"y":94,"lo":89,"hi":99},
{"q":0,"g":"Overall","m":"Extrapolation","x":0.993,"y":94,"lo":89,"hi":99},{"q":0,"g":"Overall","m":"Extrapolation","x":0.995,"y":98,"lo":91,"hi":104},{"q":0,"g":"Overall","m":"Extrapolation","x":0.996,"y":101,"lo":93,"hi":109},{"q":0,"g":"Overall","m":"Extrapolation","x":0.997,"y":104,"lo":95,"hi":113.5},{"q":0,"g":"Overall","m":"Extrapolation","x":0.998,"y":107,"lo":96.5,"hi":118},{"q":0,"g":"Overall","m":"Extrapolation","x":0.999,"y":110,"lo":98,"hi":123.5},
{"q":0,"g":"Land Preparation","m":"Rarefaction","x":0.03,"y":1,"lo":1,"hi":1},{"q":0,"g":"Land Preparation","m":"Rarefaction","x":0.67,"y":18.5,"lo":17,"hi":20},{"q":0,"g":"Land Preparation","m":"Rarefaction","x":0.82,"y":28,"lo":26,"hi":30},{"q":0,"g":"Land Preparation","m":"Rarefaction","x":0.9,"y":38,"lo":35.5,"hi":40.5},{"q":0,"g":"Land Preparation","m":"Rarefaction","x":0.94,"y":45,"lo":42,"hi":48},{"q":0,"g":"Land Preparation","m":"Rarefaction","x":0.965,"y":50.5,"lo":47,"hi":54},{"q":0,"g":"Land Preparation","m":"Rarefaction","x":0.99,"y":54.4,"lo":50.4,"hi":58.4},
{"q":0,"g":"Land Preparation","m":"Extrapolation","x":0.99,"y":54.4,"lo":50.4,"hi":58.4},{"q":0,"g":"Land Preparation","m":"Extrapolation","x":0.993,"y":56.3,"lo":51.5,"hi":61},{"q":0,"g":"Land Preparation","m":"Extrapolation","x":0.995,"y":58.2,"lo":52.5,"hi":64},{"q":0,"g":"Land Preparation","m":"Extrapolation","x":0.997,"y":59.9,"lo":53.3,"hi":67.4},
{"q":0,"g":"Harvest","m":"Rarefaction","x":0.109,"y":1,"lo":1,"hi":1},{"q":0,"g":"Harvest","m":"Rarefaction","x":0.8,"y":19.7,"lo":18.2,"hi":21.2},{"q":0,"g":"Harvest","m":"Rarefaction","x":0.88,"y":28,"lo":26,"hi":30},{"q":0,"g":"Harvest","m":"Rarefaction","x":0.93,"y":36,"lo":33.5,"hi":38.5},{"q":0,"g":"Harvest","m":"Rarefaction","x":0.96,"y":43,"lo":40,"hi":46},{"q":0,"g":"Harvest","m":"Rarefaction","x":0.98,"y":49,"lo":45.5,"hi":52.5},{"q":0,"g":"Harvest","m":"Rarefaction","x":0.988,"y":54,"lo":49.8,"hi":58.2},
{"q":0,"g":"Harvest","m":"Extrapolation","x":0.988,"y":54,"lo":49.8,"hi":58.2},{"q":0,"g":"Harvest","m":"Extrapolation","x":0.991,"y":56.5,"lo":51,"hi":62},{"q":0,"g":"Harvest","m":"Extrapolation","x":0.994,"y":59.3,"lo":52,"hi":66.5},{"q":0,"g":"Harvest","m":"Extrapolation","x":0.996,"y":61.5,"lo":52.5,"hi":70},{"q":0,"g":"Harvest","m":"Extrapolation","x":0.997,"y":63,"lo":52.8,"hi":72.3},
{"q":1,"g":"Planting","m":"Rarefaction","x":0.028,"y":1,"lo":1,"hi":1},{"q":1,"g":"Planting","m":"Rarefaction","x":0.5,"y":15,"lo":14,"hi":16},{"q":1,"g":"Planting","m":"Rarefaction","x":0.75,"y":24,"lo":22.5,"hi":25.5},{"q":1,"g":"Planting","m":"Rarefaction","x":0.87,"y":30,"lo":28,"hi":32},{"q":1,"g":"Planting","m":"Rarefaction","x":0.93,"y":34,"lo":31.7,"hi":36.3},{"q":1,"g":"Planting","m":"Rarefaction","x":0.96,"y":37,"lo":34.5,"hi":39.5},{"q":1,"g":"Planting","m":"Rarefaction","x":0.987,"y":40.3,"lo":37.6,"hi":43},
{"q":1,"g":"Planting","m":"Extrapolation","x":0.987,"y":40.3,"lo":37.6,"hi":43},{"q":1,"g":"Planting","m":"Extrapolation","x":0.992,"y":40.8,"lo":37.9,"hi":43.7},{"q":1,"g":"Planting","m":"Extrapolation","x":0.995,"y":41.2,"lo":38.1,"hi":44.3},{"q":1,"g":"Planting","m":"Extrapolation","x":0.997,"y":41.5,"lo":38.2,"hi":44.8},
{"q":1,"g":"Overall","m":"Rarefaction","x":0.04,"y":1,"lo":1,"hi":1},{"q":1,"g":"Overall","m":"Rarefaction","x":0.8,"y":22,"lo":20.5,"hi":23.5},{"q":1,"g":"Overall","m":"Rarefaction","x":0.93,"y":28,"lo":26.4,"hi":29.6},{"q":1,"g":"Overall","m":"Rarefaction","x":0.97,"y":31.5,"lo":29.8,"hi":33.2},{"q":1,"g":"Overall","m":"Rarefaction","x":0.993,"y":34.4,"lo":32.7,"hi":36.1},
{"q":1,"g":"Overall","m":"Extrapolation","x":0.993,"y":34.4,"lo":32.7,"hi":36.1},{"q":1,"g":"Overall","m":"Extrapolation","x":0.996,"y":34.7,"lo":32.9,"hi":36.5},{"q":1,"g":"Overall","m":"Extrapolation","x":0.998,"y":34.9,"lo":33,"hi":36.8},{"q":1,"g":"Overall","m":"Extrapolation","x":0.999,"y":35,"lo":33.1,"hi":36.9},
{"q":1,"g":"Land Preparation","m":"Rarefaction","x":0.03,"y":1,"lo":1,"hi":1},{"q":1,"g":"Land Preparation","m":"Rarefaction","x":0.67,"y":14,"lo":13,"hi":15},{"q":1,"g":"Land Preparation","m":"Rarefaction","x":0.82,"y":19.5,"lo":18.2,"hi":20.8},{"q":1,"g":"Land Preparation","m":"Rarefaction","x":0.9,"y":23,"lo":21.4,"hi":24.6},{"q":1,"g":"Land Preparation","m":"Rarefaction","x":0.95,"y":26.5,"lo":24.7,"hi":28.3},{"q":1,"g":"Land Preparation","m":"Rarefaction","x":0.99,"y":29.5,"lo":27.5,"hi":31.5},
{"q":1,"g":"Land Preparation","m":"Extrapolation","x":0.99,"y":29.5,"lo":27.5,"hi":31.5},{"q":1,"g":"Land Preparation","m":"Extrapolation","x":0.994,"y":29.8,"lo":27.7,"hi":31.9},{"q":1,"g":"Land Preparation","m":"Extrapolation","x":0.997,"y":30,"lo":27.8,"hi":32.2},
{"q":1,"g":"Harvest","m":"Rarefaction","x":0.109,"y":1,"lo":1,"hi":1},{"q":1,"g":"Harvest","m":"Rarefaction","x":0.8,"y":11,"lo":10.3,"hi":11.7},{"q":1,"g":"Harvest","m":"Rarefaction","x":0.9,"y":13.5,"lo":12.7,"hi":14.3},{"q":1,"g":"Harvest","m":"Rarefaction","x":0.95,"y":15.5,"lo":14.6,"hi":16.4},{"q":1,"g":"Harvest","m":"Rarefaction","x":0.988,"y":18,"lo":17,"hi":19},
{"q":1,"g":"Harvest","m":"Extrapolation","x":0.988,"y":18,"lo":17,"hi":19},{"q":1,"g":"Harvest","m":"Extrapolation","x":0.993,"y":18.2,"lo":17.1,"hi":19.3},{"q":1,"g":"Harvest","m":"Extrapolation","x":0.997,"y":18.3,"lo":17.2,"hi":19.4},
{"q":2,"g":"Planting","m":"Rarefaction","x":0.028,"y":1,"lo":1,"hi":1},{"q":2,"g":"Planting","m":"Rarefaction","x":0.5,"y":12,"lo":11.2,"hi":12.8},{"q":2,"g":"Planting","m":"Rarefaction","x":0.75,"y":18.5,"lo":17.3,"hi":19.7},{"q":2,"g":"Planting","m":"Rarefaction","x":0.87,"y":23,"lo":21.5,"hi":24.5},{"q":2,"g":"Planting","m":"Rarefaction","x":0.93,"y":25.8,"lo":24.1,"hi":27.5},{"q":2,"g":"Planting","m":"Rarefaction","x":0.96,"y":27.5,"lo":25.6,"hi":29.4},{"q":2,"g":"Planting","m":"Rarefaction","x":0.987,"y":29.3,"lo":27.3,"hi":31.3},
{"q":2,"g":"Planting","m":"Extrapolation","x":0.987,"y":29.3,"lo":27.3,"hi":31.3},{"q":2,"g":"Planting","m":"Extrapolation","x":0.993,"y":29.6,"lo":27.5,"hi":31.7},{"q":2,"g":"Planting","m":"Extrapolation","x":0.997,"y":29.8,"lo":27.6,"hi":32},
{"q":2,"g":"Overall","m":"Rarefaction","x":0.04,"y":1,"lo":1,"hi":1},{"q":2,"g":"Overall","m":"Rarefaction","x":0.8,"y":14.5,"lo":13.5,"hi":15.5},{"q":2,"g":"Overall","m":"Rarefaction","x":0.93,"y":18.5,"lo":17.4,"hi":19.6},{"q":2,"g":"Overall","m":"Rarefaction","x":0.97,"y":20.3,"lo":19.1,"hi":21.5},{"q":2,"g":"Overall","m":"Rarefaction","x":0.993,"y":21.7,"lo":20.5,"hi":22.9},
{"q":2,"g":"Overall","m":"Extrapolation","x":0.993,"y":21.7,"lo":20.5,"hi":22.9},{"q":2,"g":"Overall","m":"Extrapolation","x":0.997,"y":21.8,"lo":20.6,"hi":23},{"q":2,"g":"Overall","m":"Extrapolation","x":0.999,"y":21.9,"lo":20.6,"hi":23.2},
{"q":2,"g":"Land Preparation","m":"Rarefaction","x":0.03,"y":1,"lo":1,"hi":1},{"q":2,"g":"Land Preparation","m":"Rarefaction","x":0.67,"y":11,"lo":10.2,"hi":11.8},{"q":2,"g":"Land Preparation","m":"Rarefaction","x":0.82,"y":14.5,"lo":13.5,"hi":15.5},{"q":2,"g":"Land Preparation","m":"Rarefaction","x":0.9,"y":16.8,"lo":15.6,"hi":18},{"q":2,"g":"Land Preparation","m":"Rarefaction","x":0.95,"y":18.8,"lo":17.4,"hi":20.2},{"q":2,"g":"Land Preparation","m":"Rarefaction","x":0.99,"y":20.8,"lo":19.3,"hi":22.3},
{"q":2,"g":"Land Preparation","m":"Extrapolation","x":0.99,"y":20.8,"lo":19.3,"hi":22.3},{"q":2,"g":"Land Preparation","m":"Extrapolation","x":0.994,"y":20.9,"lo":19.3,"hi":22.5},{"q":2,"g":"Land Preparation","m":"Extrapolation","x":0.997,"y":21,"lo":19.3,"hi":22.7},
{"q":2,"g":"Harvest","m":"Rarefaction","x":0.109,"y":1,"lo":1,"hi":1},{"q":2,"g":"Harvest","m":"Rarefaction","x":0.8,"y":7,"lo":6.6,"hi":7.4},{"q":2,"g":"Harvest","m":"Rarefaction","x":0.9,"y":8.2,"lo":7.8,"hi":8.6},{"q":2,"g":"Harvest","m":"Rarefaction","x":0.95,"y":8.9,"lo":8.4,"hi":9.4},{"q":2,"g":"Harvest","m":"Rarefaction","x":0.988,"y":9.5,"lo":9,"hi":10},
{"q":2,"g":"Harvest","m":"Extrapolation","x":0.988,"y":9.5,"lo":9,"hi":10},{"q":2,"g":"Harvest","m":"Extrapolation","x":0.993,"y":9.55,"lo":9,"hi":10.1},{"q":2,"g":"Harvest","m":"Extrapolation","x":0.997,"y":9.6,"lo":9,"hi":10.2}
],
"covObs": [
{"q":0,"g":"Harvest","x":0.988,"y":54},{"q":0,"g":"Land Preparation","x":0.99,"y":54.4},{"q":0,"g":"Overall","x":0.993,"y":94},{"q":0,"g":"Planting","x":0.987,"y":76.7},
{"q":1,"g":"Harvest","x":0.988,"y":18},{"q":1,"g":"Land Preparation","x":0.99,"y":29.5},{"q":1,"g":"Overall","x":0.993,"y":34.4},{"q":1,"g":"Planting","x":0.987,"y":40.3},
{"q":2,"g":"Harvest","x":0.988,"y":9.5},{"q":2,"g":"Land Preparation","x":0.99,"y":20.8},{"q":2,"g":"Overall","x":0.993,"y":21.7},{"q":2,"g":"Planting","x":0.987,"y":29.3}
],
"minQ": [{"mv":0.25},{"mv":0.75},{"mv":1.25},{"mv":1.75}],
"minSC": [{"mv":0.55},{"mv":0.65},{"mv":0.75},{"mv":0.85},{"mv":0.95}],
"minDiv": [{"mv":25},{"mv":75},{"mv":125},{"mv":175}],
"minEv": [{"mv":0.125},{"mv":0.375},{"mv":0.625},{"mv":0.875}],
"minN": [{"mv":500},{"mv":1500},{"mv":2500},{"mv":3500},{"mv":4500}],
"minSD": [{"mv":12.5},{"mv":37.5},{"mv":62.5},{"mv":87.5},{"mv":112.5}],
"minCov": [{"mv":0.125},{"mv":0.375},{"mv":0.625},{"mv":0.875}],
"minCD": [{"mv":25},{"mv":75},{"mv":125}]
},
"resolve": {"scale": {"strokeDash": "independent"}, "legend": {"strokeDash": "independent"}},
"spacing": 8,
"vconcat": [
{
 "spacing": 9,
 "resolve": {"scale": {"strokeDash": "independent"}, "legend": {"strokeDash": "independent"}},
 "hconcat": [
  {
   "title": {"text": ["(a) STEP1.", " Sample completeness profiles"]},
   "width": 586, "height": 263,
   "data": {"name": "sc"},
   "layer": [
    {"data": {"name": "minQ"}, "mark": {"type": "rule", "color": "#EBEBEB", "strokeWidth": 0.6}, "encoding": {"x": {"field": "mv", "type": "quantitative", "title": "Order q"}}},
    {"data": {"name": "minSC"}, "mark": {"type": "rule", "color": "#EBEBEB", "strokeWidth": 0.6}, "encoding": {"y": {"field": "mv", "type": "quantitative", "title": "Sample completeness"}}},
    {"mark": {"type": "line", "strokeWidth": 2.5},
     "encoding": {
      "x": {"field": "q", "type": "quantitative", "title": "Order q", "scale": {"domain": [-0.1, 2.1], "nice": false, "zero": false},
        "axis": {"title": "Order q", "labelOverlap": false, "tickCount": 20, "values": [0,0.5,1,1.5,2], "format": ".1f"}},
      "y": {"field": "v", "type": "quantitative", "title": "Sample completeness", "scale": {"domain": [0.519, 1.0224], "nice": false, "zero": false},
        "axis": {"title": "Sample completeness", "labelOverlap": false, "tickCount": 20, "values": [0.6,0.7,0.8,0.9,1], "format": ".1f"}},
      "color": {"field": "g", "type": "nominal", "scale": {"domain": ["Harvest","Land Preparation","Overall","Planting"], "range": ["#D55E00","#0072B2","#CC79A7","#330066"]}, "legend": null}
     }},
    {"mark": {"type": "area", "opacity": 0.2},
     "encoding": {
      "x": {"field": "q", "type": "quantitative", "title": "Order q"},
      "y": {"field": "lo", "type": "quantitative", "title": "Sample completeness"},
      "y2": {"field": "hi"},
      "color": {"field": "g", "type": "nominal", "scale": {"domain": ["Harvest","Land Preparation","Overall","Planting"], "range": ["#D55E00","#0072B2","#CC79A7","#330066"]}, "legend": null}
     }}
   ]
  },
  {
   "title": {"text": ["(b) STEP2.1.", " Size−based rarefaction/extrapolation"]},
   "spacing": 7,
   "hconcat": [
    {"bounds": "flush", "spacing": 0, "vconcat": [
     {"width": 190, "height": 22, "view": {"fill": "#D9D9D9", "stroke": "#333333"}, "data": {"values": [{"lab": "q = 0"}]}, "mark": {"type": "text", "fontSize": 11, "color": "#1A1A1A"}, "encoding": {"text": {"field": "lab", "type": "nominal"}}},
     {"width": 190, "height": 207, "layer": [
      {"data": {"name": "minN"}, "mark": {"type": "rule", "color": "#EBEBEB", "strokeWidth": 0.6}, "encoding": {"x": {"field": "mv", "type": "quantitative", "title": null}}},
      {"data": {"name": "minSD"}, "mark": {"type": "rule", "color": "#EBEBEB", "strokeWidth": 0.6}, "encoding": {"y": {"field": "mv", "type": "quantitative", "title": "Taxonomic diversity"}}},
      {"data": {"name": "size"}, "transform": [{"filter": "datum.q === 0"}], "mark": {"type": "area", "opacity": 0.2},
       "encoding": {
        "x": {"field": "x", "type": "quantitative", "title": null, "scale": {"domain": [-240, 5345], "nice": false, "zero": false}, "axis": {"title": null, "labelOverlap": false, "tickCount": 20, "values": [0,1000,2000,3000,4000,5000], "format": "d"}},
        "y": {"field": "lo", "type": "quantitative", "title": "Taxonomic diversity", "scale": {"domain": [-5.1, 129.8], "nice": false, "zero": false}, "axis": {"title": "Taxonomic diversity", "labelOverlap": false, "tickCount": 20, "values": [0,25,50,75,100,125], "format": "d"}},
        "y2": {"field": "hi"},
        "color": {"field": "g", "type": "nominal", "scale": {"domain": ["Harvest","Land Preparation","Overall","Planting"], "range": ["#D55E00","#0072B2","#CC79A7","#330066"]}, "legend": null},
        "detail": {"field": "m", "type": "nominal"}}},
      {"data": {"name": "size"}, "transform": [{"filter": "datum.q === 0"}], "mark": {"type": "line", "strokeWidth": 3.5},
       "encoding": {
        "x": {"field": "x", "type": "quantitative", "title": null}, "y": {"field": "y", "type": "quantitative", "title": "Taxonomic diversity"},
        "color": {"field": "g", "type": "nominal", "scale": {"domain": ["Harvest","Land Preparation","Overall","Planting"], "range": ["#D55E00","#0072B2","#CC79A7","#330066"]}, "legend": null},
        "strokeDash": {"field": "m", "type": "nominal", "scale": {"domain": ["Rarefaction","Extrapolation"], "range": [[1,0],[9,5]]}, "legend": {"title": null, "orient": "none", "legendX": 183, "legendY": 271, "direction": "horizontal"}}}},
      {"data": {"name": "sizeObs"}, "transform": [{"filter": "datum.q === 0 && datum.g !== 'Planting'"}], "mark": {"type": "point", "filled": true, "size": 200, "opacity": 1},
       "encoding": {"x": {"field": "x", "type": "quantitative", "title": null}, "y": {"field": "y", "type": "quantitative", "title": "Taxonomic diversity"},
        "color": {"field": "g", "type": "nominal", "scale": {"domain": ["Harvest","Land Preparation","Overall","Planting"], "range": ["#D55E00","#0072B2","#CC79A7","#330066"]}, "legend": null},
        "shape": {"field": "g", "type": "nominal", "scale": {"domain": ["Harvest","Land Preparation","Overall"], "range": ["circle","triangle-up","square"]}, "legend": null}}},
      {"data": {"name": "sizeObs"}, "transform": [{"filter": "datum.q === 0 && datum.g === 'Planting'"}], "mark": {"type": "point", "shape": "M-1,0H1M0,-1V1", "filled": false, "size": 676, "strokeWidth": 1.3, "opacity": 1},
       "encoding": {"x": {"field": "x", "type": "quantitative", "title": null}, "y": {"field": "y", "type": "quantitative", "title": "Taxonomic diversity"},
        "color": {"field": "g", "type": "nominal", "scale": {"domain": ["Harvest","Land Preparation","Overall","Planting"], "range": ["#D55E00","#0072B2","#CC79A7","#330066"]}, "legend": null}}}
     ]}
    ]},
    {"bounds": "flush", "spacing": 0, "vconcat": [
     {"width": 190, "height": 22, "view": {"fill": "#D9D9D9", "stroke": "#333333"}, "data": {"values": [{"lab": "q = 1"}]}, "mark": {"type": "text", "fontSize": 11, "color": "#1A1A1A"}, "encoding": {"text": {"field": "lab", "type": "nominal"}}},
     {"width": 190, "height": 207, "layer": [
      {"data": {"name": "minN"}, "mark": {"type": "rule", "color": "#EBEBEB", "strokeWidth": 0.6}, "encoding": {"x": {"field": "mv", "type": "quantitative", "title": "Number of individuals"}}},
      {"data": {"name": "minSD"}, "mark": {"type": "rule", "color": "#EBEBEB", "strokeWidth": 0.6}, "encoding": {"y": {"field": "mv", "type": "quantitative", "title": null}}},
      {"data": {"name": "size"}, "transform": [{"filter": "datum.q === 1"}], "mark": {"type": "area", "opacity": 0.2},
       "encoding": {
        "x": {"field": "x", "type": "quantitative", "title": "Number of individuals", "scale": {"domain": [-240, 5345], "nice": false, "zero": false}, "axis": {"title": "Number of individuals", "labelOverlap": false, "tickCount": 20, "values": [0,1000,2000,3000,4000,5000], "format": "d"}},
        "y": {"field": "lo", "type": "quantitative", "title": null, "scale": {"domain": [-5.1, 129.8], "nice": false, "zero": false}, "axis": {"title": null, "labels": false, "ticks": false, "tickCount": 20, "values": [0,25,50,75,100,125]}},
        "y2": {"field": "hi"},
        "color": {"field": "g", "type": "nominal", "scale": {"domain": ["Harvest","Land Preparation","Overall","Planting"], "range": ["#D55E00","#0072B2","#CC79A7","#330066"]}, "legend": null},
        "detail": {"field": "m", "type": "nominal"}}},
      {"data": {"name": "size"}, "transform": [{"filter": "datum.q === 1"}], "mark": {"type": "line", "strokeWidth": 3.5},
       "encoding": {
        "x": {"field": "x", "type": "quantitative", "title": "Number of individuals"}, "y": {"field": "y", "type": "quantitative", "title": null},
        "color": {"field": "g", "type": "nominal", "scale": {"domain": ["Harvest","Land Preparation","Overall","Planting"], "range": ["#D55E00","#0072B2","#CC79A7","#330066"]}, "legend": null},
        "strokeDash": {"field": "m", "type": "nominal", "scale": {"domain": ["Rarefaction","Extrapolation"], "range": [[1,0],[9,5]]}, "legend": {"title": null, "orient": "none", "legendX": 183, "legendY": 271, "direction": "horizontal"}}}},
      {"data": {"name": "sizeObs"}, "transform": [{"filter": "datum.q === 1 && datum.g !== 'Planting'"}], "mark": {"type": "point", "filled": true, "size": 200, "opacity": 1},
       "encoding": {"x": {"field": "x", "type": "quantitative", "title": "Number of individuals"}, "y": {"field": "y", "type": "quantitative", "title": null},
        "color": {"field": "g", "type": "nominal", "scale": {"domain": ["Harvest","Land Preparation","Overall","Planting"], "range": ["#D55E00","#0072B2","#CC79A7","#330066"]}, "legend": null},
        "shape": {"field": "g", "type": "nominal", "scale": {"domain": ["Harvest","Land Preparation","Overall"], "range": ["circle","triangle-up","square"]}, "legend": null}}},
      {"data": {"name": "sizeObs"}, "transform": [{"filter": "datum.q === 1 && datum.g === 'Planting'"}], "mark": {"type": "point", "shape": "M-1,0H1M0,-1V1", "filled": false, "size": 676, "strokeWidth": 1.3, "opacity": 1},
       "encoding": {"x": {"field": "x", "type": "quantitative", "title": "Number of individuals"}, "y": {"field": "y", "type": "quantitative", "title": null},
        "color": {"field": "g", "type": "nominal", "scale": {"domain": ["Harvest","Land Preparation","Overall","Planting"], "range": ["#D55E00","#0072B2","#CC79A7","#330066"]}, "legend": null}}}
     ]}
    ]},
    {"bounds": "flush", "spacing": 0, "vconcat": [
     {"width": 190, "height": 22, "view": {"fill": "#D9D9D9", "stroke": "#333333"}, "data": {"values": [{"lab": "q = 2"}]}, "mark": {"type": "text", "fontSize": 11, "color": "#1A1A1A"}, "encoding": {"text": {"field": "lab", "type": "nominal"}}},
     {"width": 190, "height": 207, "layer": [
      {"data": {"name": "minN"}, "mark": {"type": "rule", "color": "#EBEBEB", "strokeWidth": 0.6}, "encoding": {"x": {"field": "mv", "type": "quantitative", "title": null}}},
      {"data": {"name": "minSD"}, "mark": {"type": "rule", "color": "#EBEBEB", "strokeWidth": 0.6}, "encoding": {"y": {"field": "mv", "type": "quantitative", "title": null}}},
      {"data": {"name": "size"}, "transform": [{"filter": "datum.q === 2"}], "mark": {"type": "area", "opacity": 0.2},
       "encoding": {
        "x": {"field": "x", "type": "quantitative", "title": null, "scale": {"domain": [-240, 5345], "nice": false, "zero": false}, "axis": {"title": null, "labelOverlap": false, "tickCount": 20, "values": [0,1000,2000,3000,4000,5000], "format": "d"}},
        "y": {"field": "lo", "type": "quantitative", "title": null, "scale": {"domain": [-5.1, 129.8], "nice": false, "zero": false}, "axis": {"title": null, "labels": false, "ticks": false, "tickCount": 20, "values": [0,25,50,75,100,125]}},
        "y2": {"field": "hi"},
        "color": {"field": "g", "type": "nominal", "scale": {"domain": ["Harvest","Land Preparation","Overall","Planting"], "range": ["#D55E00","#0072B2","#CC79A7","#330066"]}, "legend": null},
        "detail": {"field": "m", "type": "nominal"}}},
      {"data": {"name": "size"}, "transform": [{"filter": "datum.q === 2"}], "mark": {"type": "line", "strokeWidth": 3.5},
       "encoding": {
        "x": {"field": "x", "type": "quantitative", "title": null}, "y": {"field": "y", "type": "quantitative", "title": null},
        "color": {"field": "g", "type": "nominal", "scale": {"domain": ["Harvest","Land Preparation","Overall","Planting"], "range": ["#D55E00","#0072B2","#CC79A7","#330066"]}, "legend": null},
        "strokeDash": {"field": "m", "type": "nominal", "scale": {"domain": ["Rarefaction","Extrapolation"], "range": [[1,0],[9,5]]}, "legend": {"title": null, "orient": "none", "legendX": 183, "legendY": 271, "direction": "horizontal"}}}},
      {"data": {"name": "sizeObs"}, "transform": [{"filter": "datum.q === 2 && datum.g !== 'Planting'"}], "mark": {"type": "point", "filled": true, "size": 200, "opacity": 1},
       "encoding": {"x": {"field": "x", "type": "quantitative", "title": null}, "y": {"field": "y", "type": "quantitative", "title": null},
        "color": {"field": "g", "type": "nominal", "scale": {"domain": ["Harvest","Land Preparation","Overall","Planting"], "range": ["#D55E00","#0072B2","#CC79A7","#330066"]}, "legend": null},
        "shape": {"field": "g", "type": "nominal", "scale": {"domain": ["Harvest","Land Preparation","Overall"], "range": ["circle","triangle-up","square"]}, "legend": null}}},
      {"data": {"name": "sizeObs"}, "transform": [{"filter": "datum.q === 2 && datum.g === 'Planting'"}], "mark": {"type": "point", "shape": "M-1,0H1M0,-1V1", "filled": false, "size": 676, "strokeWidth": 1.3, "opacity": 1},
       "encoding": {"x": {"field": "x", "type": "quantitative", "title": null}, "y": {"field": "y", "type": "quantitative", "title": null},
        "color": {"field": "g", "type": "nominal", "scale": {"domain": ["Harvest","Land Preparation","Overall","Planting"], "range": ["#D55E00","#0072B2","#CC79A7","#330066"]}, "legend": null}}}
     ]}
    ]}
   ]
  }
 ]
},
{
 "spacing": 12,
 "resolve": {"scale": {"strokeDash": "independent"}, "legend": {"strokeDash": "independent"}},
 "hconcat": [
  {
   "title": {"text": ["(c) STEP2.2.", " Asymptotic and empirical diversity profiles"]},
   "width": 586, "height": 246,
   "data": {"name": "prof"},
   "layer": [
    {"data": {"name": "minQ"}, "mark": {"type": "rule", "color": "#EBEBEB", "strokeWidth": 0.6}, "encoding": {"x": {"field": "mv", "type": "quantitative", "title": "Order q"}}},
    {"data": {"name": "minDiv"}, "mark": {"type": "rule", "color": "#EBEBEB", "strokeWidth": 0.6}, "encoding": {"y": {"field": "mv", "type": "quantitative", "title": "Taxonomic diversity"}}},
    {"mark": {"type": "line", "strokeWidth": 3},
     "encoding": {
      "x": {"field": "q", "type": "quantitative", "title": "Order q", "scale": {"domain": [-0.1, 2.1], "nice": false, "zero": false},
        "axis": {"title": "Order q", "labelOverlap": false, "tickCount": 20, "values": [0,0.5,1,1.5,2], "format": ".1f"}},
      "y": {"field": "v", "type": "quantitative", "title": "Taxonomic diversity", "scale": {"domain": [1.2, 179.5], "nice": false, "zero": false},
        "axis": {"title": "Taxonomic diversity", "labelOverlap": false, "tickCount": 20, "values": [50,100,150], "format": "d"}},
      "color": {"field": "g", "type": "nominal", "scale": {"domain": ["Harvest","Land Preparation","Overall","Planting"], "range": ["#D55E00","#0072B2","#CC79A7","#330066"]}, "legend": null},
      "strokeDash": {"field": "m", "type": "nominal", "scale": {"domain": ["Asymptotic","Empirical"], "range": [[1,0],[9,5]]}, "legend": {"title": null, "orient": "none", "legendX": 194, "legendY": 274, "direction": "horizontal"}}
     }},
    {"transform": [{"filter": "datum.m === 'Asymptotic'"}],
     "mark": {"type": "area", "opacity": 0.2},
     "encoding": {
      "x": {"field": "q", "type": "quantitative", "title": "Order q"},
      "y": {"field": "lo", "type": "quantitative", "title": "Taxonomic diversity"},
      "y2": {"field": "hi"},
      "color": {"field": "g", "type": "nominal", "scale": {"domain": ["Harvest","Land Preparation","Overall","Planting"], "range": ["#D55E00","#0072B2","#CC79A7","#330066"]}, "legend": null}
     }}
   ]
  },
  {
   "title": {"text": ["(d) STEP3.", " Coverage−based rarefaction/extrapolation"]},
   "spacing": -7,
   "hconcat": [
    {"bounds": "flush", "spacing": 0, "vconcat": [
     {"width": 190, "height": 22, "view": {"fill": "#D9D9D9", "stroke": "#333333"}, "data": {"values": [{"lab": "q = 0"}]}, "mark": {"type": "text", "fontSize": 11, "color": "#1A1A1A"}, "encoding": {"text": {"field": "lab", "type": "nominal"}}},
     {"width": 190, "height": 207, "layer": [
      {"data": {"name": "minCov"}, "mark": {"type": "rule", "color": "#EBEBEB", "strokeWidth": 0.6}, "encoding": {"x": {"field": "mv", "type": "quantitative", "title": null}}},
      {"data": {"name": "minCD"}, "mark": {"type": "rule", "color": "#EBEBEB", "strokeWidth": 0.6}, "encoding": {"y": {"field": "mv", "type": "quantitative", "title": "Taxonomic diversity"}}},
      {"data": {"name": "cov"}, "transform": [{"filter": "datum.q === 0"}], "mark": {"type": "area", "opacity": 0.2},
       "encoding": {
        "x": {"field": "x", "type": "quantitative", "title": null, "scale": {"domain": [-0.018, 1.047], "nice": false, "zero": false}, "axis": {"title": null, "labelOverlap": false, "tickCount": 20, "values": [0,0.25,0.5,0.75,1], "format": ".2f"}},
        "y": {"field": "lo", "type": "quantitative", "title": "Taxonomic diversity", "scale": {"domain": [-5.9, 153.1], "nice": false, "zero": false}, "axis": {"title": "Taxonomic diversity", "labelOverlap": false, "tickCount": 20, "values": [0,50,100,150], "format": "d"}},
        "y2": {"field": "hi"},
        "color": {"field": "g", "type": "nominal", "scale": {"domain": ["Harvest","Land Preparation","Overall","Planting"], "range": ["#D55E00","#0072B2","#CC79A7","#330066"]}, "legend": null},
        "detail": {"field": "m", "type": "nominal"}}},
      {"data": {"name": "cov"}, "transform": [{"filter": "datum.q === 0"}], "mark": {"type": "line", "strokeWidth": 3.5},
       "encoding": {
        "x": {"field": "x", "type": "quantitative", "title": null}, "y": {"field": "y", "type": "quantitative", "title": "Taxonomic diversity"},
        "color": {"field": "g", "type": "nominal", "scale": {"domain": ["Harvest","Land Preparation","Overall","Planting"], "range": ["#D55E00","#0072B2","#CC79A7","#330066"]}, "legend": null},
        "strokeDash": {"field": "m", "type": "nominal", "scale": {"domain": ["Rarefaction","Extrapolation"], "range": [[1,0],[9,5]]}, "legend": {"title": null, "orient": "none", "legendX": 183, "legendY": 271, "direction": "horizontal"}}}},
      {"data": {"name": "covObs"}, "transform": [{"filter": "datum.q === 0 && datum.g !== 'Planting'"}], "mark": {"type": "point", "filled": true, "size": 200, "opacity": 1},
       "encoding": {"x": {"field": "x", "type": "quantitative", "title": null}, "y": {"field": "y", "type": "quantitative", "title": "Taxonomic diversity"},
        "color": {"field": "g", "type": "nominal", "scale": {"domain": ["Harvest","Land Preparation","Overall","Planting"], "range": ["#D55E00","#0072B2","#CC79A7","#330066"]}, "legend": null},
        "shape": {"field": "g", "type": "nominal", "scale": {"domain": ["Harvest","Land Preparation","Overall"], "range": ["circle","triangle-up","square"]}, "legend": null}}},
      {"data": {"name": "covObs"}, "transform": [{"filter": "datum.q === 0 && datum.g === 'Planting'"}], "mark": {"type": "point", "shape": "M-1,0H1M0,-1V1", "filled": false, "size": 676, "strokeWidth": 1.3, "opacity": 1},
       "encoding": {"x": {"field": "x", "type": "quantitative", "title": null}, "y": {"field": "y", "type": "quantitative", "title": "Taxonomic diversity"},
        "color": {"field": "g", "type": "nominal", "scale": {"domain": ["Harvest","Land Preparation","Overall","Planting"], "range": ["#D55E00","#0072B2","#CC79A7","#330066"]}, "legend": null}}}
     ]}
    ]},
    {"bounds": "flush", "spacing": 0, "vconcat": [
     {"width": 190, "height": 22, "view": {"fill": "#D9D9D9", "stroke": "#333333"}, "data": {"values": [{"lab": "q = 1"}]}, "mark": {"type": "text", "fontSize": 11, "color": "#1A1A1A"}, "encoding": {"text": {"field": "lab", "type": "nominal"}}},
     {"width": 190, "height": 207, "layer": [
      {"data": {"name": "minCov"}, "mark": {"type": "rule", "color": "#EBEBEB", "strokeWidth": 0.6}, "encoding": {"x": {"field": "mv", "type": "quantitative", "title": "Sample coverage"}}},
      {"data": {"name": "minCD"}, "mark": {"type": "rule", "color": "#EBEBEB", "strokeWidth": 0.6}, "encoding": {"y": {"field": "mv", "type": "quantitative", "title": null}}},
      {"data": {"name": "cov"}, "transform": [{"filter": "datum.q === 1"}], "mark": {"type": "area", "opacity": 0.2},
       "encoding": {
        "x": {"field": "x", "type": "quantitative", "title": "Sample coverage", "scale": {"domain": [-0.018, 1.047], "nice": false, "zero": false}, "axis": {"title": "Sample coverage", "labelOverlap": false, "tickCount": 20, "values": [0,0.25,0.5,0.75,1], "format": ".2f"}},
        "y": {"field": "lo", "type": "quantitative", "title": null, "scale": {"domain": [-5.9, 153.1], "nice": false, "zero": false}, "axis": {"title": null, "labels": false, "ticks": false, "tickCount": 20, "values": [0,50,100,150]}},
        "y2": {"field": "hi"},
        "color": {"field": "g", "type": "nominal", "scale": {"domain": ["Harvest","Land Preparation","Overall","Planting"], "range": ["#D55E00","#0072B2","#CC79A7","#330066"]}, "legend": null},
        "detail": {"field": "m", "type": "nominal"}}},
      {"data": {"name": "cov"}, "transform": [{"filter": "datum.q === 1"}], "mark": {"type": "line", "strokeWidth": 3.5},
       "encoding": {
        "x": {"field": "x", "type": "quantitative", "title": "Sample coverage"}, "y": {"field": "y", "type": "quantitative", "title": null},
        "color": {"field": "g", "type": "nominal", "scale": {"domain": ["Harvest","Land Preparation","Overall","Planting"], "range": ["#D55E00","#0072B2","#CC79A7","#330066"]}, "legend": null},
        "strokeDash": {"field": "m", "type": "nominal", "scale": {"domain": ["Rarefaction","Extrapolation"], "range": [[1,0],[9,5]]}, "legend": {"title": null, "orient": "none", "legendX": 183, "legendY": 271, "direction": "horizontal"}}}},
      {"data": {"name": "covObs"}, "transform": [{"filter": "datum.q === 1 && datum.g !== 'Planting'"}], "mark": {"type": "point", "filled": true, "size": 200, "opacity": 1},
       "encoding": {"x": {"field": "x", "type": "quantitative", "title": "Sample coverage"}, "y": {"field": "y", "type": "quantitative", "title": null},
        "color": {"field": "g", "type": "nominal", "scale": {"domain": ["Harvest","Land Preparation","Overall","Planting"], "range": ["#D55E00","#0072B2","#CC79A7","#330066"]}, "legend": null},
        "shape": {"field": "g", "type": "nominal", "scale": {"domain": ["Harvest","Land Preparation","Overall"], "range": ["circle","triangle-up","square"]}, "legend": null}}},
      {"data": {"name": "covObs"}, "transform": [{"filter": "datum.q === 1 && datum.g === 'Planting'"}], "mark": {"type": "point", "shape": "M-1,0H1M0,-1V1", "filled": false, "size": 676, "strokeWidth": 1.3, "opacity": 1},
       "encoding": {"x": {"field": "x", "type": "quantitative", "title": "Sample coverage"}, "y": {"field": "y", "type": "quantitative", "title": null},
        "color": {"field": "g", "type": "nominal", "scale": {"domain": ["Harvest","Land Preparation","Overall","Planting"], "range": ["#D55E00","#0072B2","#CC79A7","#330066"]}, "legend": null}}}
     ]}
    ]},
    {"bounds": "flush", "spacing": 0, "vconcat": [
     {"width": 190, "height": 22, "view": {"fill": "#D9D9D9", "stroke": "#333333"}, "data": {"values": [{"lab": "q = 2"}]}, "mark": {"type": "text", "fontSize": 11, "color": "#1A1A1A"}, "encoding": {"text": {"field": "lab", "type": "nominal"}}},
     {"width": 190, "height": 207, "layer": [
      {"data": {"name": "minCov"}, "mark": {"type": "rule", "color": "#EBEBEB", "strokeWidth": 0.6}, "encoding": {"x": {"field": "mv", "type": "quantitative", "title": null}}},
      {"data": {"name": "minCD"}, "mark": {"type": "rule", "color": "#EBEBEB", "strokeWidth": 0.6}, "encoding": {"y": {"field": "mv", "type": "quantitative", "title": null}}},
      {"data": {"name": "cov"}, "transform": [{"filter": "datum.q === 2"}], "mark": {"type": "area", "opacity": 0.2},
       "encoding": {
        "x": {"field": "x", "type": "quantitative", "title": null, "scale": {"domain": [-0.018, 1.047], "nice": false, "zero": false}, "axis": {"title": null, "labelOverlap": false, "tickCount": 20, "values": [0,0.25,0.5,0.75,1], "format": ".2f"}},
        "y": {"field": "lo", "type": "quantitative", "title": null, "scale": {"domain": [-5.9, 153.1], "nice": false, "zero": false}, "axis": {"title": null, "labels": false, "ticks": false, "tickCount": 20, "values": [0,50,100,150]}},
        "y2": {"field": "hi"},
        "color": {"field": "g", "type": "nominal", "scale": {"domain": ["Harvest","Land Preparation","Overall","Planting"], "range": ["#D55E00","#0072B2","#CC79A7","#330066"]}, "legend": null},
        "detail": {"field": "m", "type": "nominal"}}},
      {"data": {"name": "cov"}, "transform": [{"filter": "datum.q === 2"}], "mark": {"type": "line", "strokeWidth": 3.5},
       "encoding": {
        "x": {"field": "x", "type": "quantitative", "title": null}, "y": {"field": "y", "type": "quantitative", "title": null},
        "color": {"field": "g", "type": "nominal", "scale": {"domain": ["Harvest","Land Preparation","Overall","Planting"], "range": ["#D55E00","#0072B2","#CC79A7","#330066"]}, "legend": null},
        "strokeDash": {"field": "m", "type": "nominal", "scale": {"domain": ["Rarefaction","Extrapolation"], "range": [[1,0],[9,5]]}, "legend": {"title": null, "orient": "none", "legendX": 183, "legendY": 271, "direction": "horizontal"}}}},
      {"data": {"name": "covObs"}, "transform": [{"filter": "datum.q === 2 && datum.g !== 'Planting'"}], "mark": {"type": "point", "filled": true, "size": 200, "opacity": 1},
       "encoding": {"x": {"field": "x", "type": "quantitative", "title": null}, "y": {"field": "y", "type": "quantitative", "title": null},
        "color": {"field": "g", "type": "nominal", "scale": {"domain": ["Harvest","Land Preparation","Overall","Planting"], "range": ["#D55E00","#0072B2","#CC79A7","#330066"]}, "legend": null},
        "shape": {"field": "g", "type": "nominal", "scale": {"domain": ["Harvest","Land Preparation","Overall"], "range": ["circle","triangle-up","square"]}, "legend": null}}},
      {"data": {"name": "covObs"}, "transform": [{"filter": "datum.q === 2 && datum.g === 'Planting'"}], "mark": {"type": "point", "shape": "M-1,0H1M0,-1V1", "filled": false, "size": 676, "strokeWidth": 1.3, "opacity": 1},
       "encoding": {"x": {"field": "x", "type": "quantitative", "title": null}, "y": {"field": "y", "type": "quantitative", "title": null},
        "color": {"field": "g", "type": "nominal", "scale": {"domain": ["Harvest","Land Preparation","Overall","Planting"], "range": ["#D55E00","#0072B2","#CC79A7","#330066"]}, "legend": null}}}
     ]}
    ]}
   ]
  }
 ]
},
{
 "spacing": 263,
 "resolve": {"scale": {"strokeDash": "independent"}, "legend": {"strokeDash": "independent"}},
 "hconcat": [
  {
   "title": {"text": ["(e) STEP4.", " Evenness profiles"], "offset": 7},
   "width": 583, "height": 262,
   "data": {"name": "even"},
   "layer": [
    {"data": {"name": "minQ"}, "mark": {"type": "rule", "color": "#EBEBEB", "strokeWidth": 0.6}, "encoding": {"x": {"field": "mv", "type": "quantitative", "title": "Order q"}}},
    {"data": {"name": "minEv"}, "mark": {"type": "rule", "color": "#EBEBEB", "strokeWidth": 0.6}, "encoding": {"y": {"field": "mv", "type": "quantitative", "title": "Evenness"}}},
    {"mark": {"type": "line", "strokeWidth": 2.5},
     "encoding": {
      "x": {"field": "q", "type": "quantitative", "title": "Order q", "scale": {"domain": [-0.1, 2.1], "nice": false, "zero": false},
        "axis": {"title": "Order q", "labelOverlap": false, "tickCount": 20, "values": [0,0.5,1,1.5,2], "format": ".1f"}},
      "y": {"field": "v", "type": "quantitative", "title": "Evenness", "scale": {"domain": [0.0884, 1.045], "nice": false, "zero": false},
        "axis": {"title": "Evenness", "labelOverlap": false, "tickCount": 20, "values": [0.25,0.5,0.75,1], "format": ".2f"}},
      "color": {"field": "g", "type": "nominal", "scale": {"domain": ["Harvest","Land Preparation","Overall","Planting"], "range": ["#D55E00","#0072B2","#CC79A7","#330066"]}, "legend": null}
     }},
    {"mark": {"type": "area", "opacity": 0.2},
     "encoding": {
      "x": {"field": "q", "type": "quantitative", "title": "Order q"},
      "y": {"field": "lo", "type": "quantitative", "title": "Evenness"},
      "y2": {"field": "hi"},
      "color": {"field": "g", "type": "nominal", "scale": {"domain": ["Harvest","Land Preparation","Overall","Planting"], "range": ["#D55E00","#0072B2","#CC79A7","#330066"]}, "legend": null}
     }}
   ]
  },
  {
   "width": 150, "height": 215,
   "view": {"stroke": null},
   "data": {"values": [{"g": "Harvest"}, {"g": "Land Preparation"}, {"g": "Overall"}, {"g": "Planting"}]},
   "encoding": {"y": {"field": "g", "type": "nominal", "scale": {"range": [92, 176], "paddingInner": 0.05, "paddingOuter": 0}, "axis": null}},
   "layer": [
    {"mark": {"type": "bar", "opacity": 0.2},
     "encoding": {"x": {"datum": 0, "type": "quantitative", "scale": {"domain": [0, 150]}, "axis": null}, "x2": {"datum": 36},
      "color": {"field": "g", "type": "nominal", "scale": {"domain": ["Harvest","Land Preparation","Overall","Planting"], "range": ["#D55E00","#0072B2","#CC79A7","#330066"]}, "legend": null}}},
    {"mark": {"type": "rule", "strokeWidth": 3},
     "encoding": {"x": {"datum": 4, "type": "quantitative"}, "x2": {"datum": 32},
      "color": {"field": "g", "type": "nominal", "scale": {"domain": ["Harvest","Land Preparation","Overall","Planting"], "range": ["#D55E00","#0072B2","#CC79A7","#330066"]}, "legend": null}}},
    {"mark": {"type": "text", "align": "left", "fontSize": 11, "color": "#000000"},
     "encoding": {"x": {"datum": 47, "type": "quantitative"}, "text": {"field": "g", "type": "nominal"}}}
   ]
  }
 ]
}
]
}
